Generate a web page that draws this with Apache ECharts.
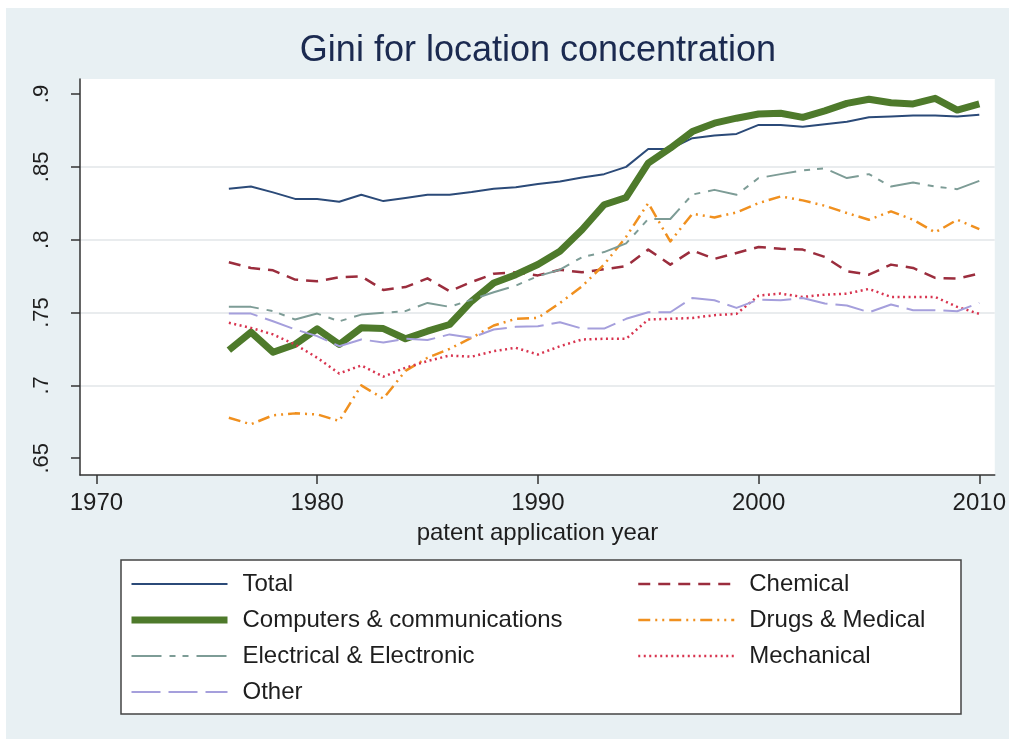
<!DOCTYPE html>
<html>
<head>
<meta charset="utf-8">
<title>Gini for location concentration</title>
<script src="https://cdn.jsdelivr.net/npm/echarts@6/dist/echarts.min.js"></script>
<style>
  html, body { margin: 0; padding: 0; background: #ffffff; }
  #bg { position: absolute; left: 6px; top: 8px; right: 0; bottom: 0; background: #e8f0f3; }
  #chart { position: absolute; left: 0; top: 0; width: 1009px; height: 739px; }
</style>
</head>
<body>
<div id="bg"></div>
<div id="chart"></div>
<script>
// years 1976..2010
var years = [1976,1977,1978,1979,1980,1981,1982,1983,1984,1985,1986,1987,1988,1989,1990,
             1991,1992,1993,1994,1995,1996,1997,1998,1999,2000,2001,2002,2003,2004,2005,
             2006,2007,2008,2009,2010];

var total = [.835,.8365,.8325,.828,.828,.826,.8308,.8265,.8286,.8308,.8308,.8327,.835,.836,.8382,
             .840,.8427,.845,.850,.8623,.8623,.8697,.8715,.8726,.8788,.8788,.8776,.8792,.881,.884,
             .8845,.8852,.8852,.8845,.8858];
var chemical = [.7845,.7806,.779,.7726,.7715,.7742,.7749,.7655,.7675,.7735,.7646,.771,.7766,.7776,.7755,
                .7794,.7776,.7797,.7818,.7932,.7829,.7927,.7868,.7909,.795,.7938,.7932,.7882,.7783,.776,
                .7829,.7806,.7738,.7733,.7767];
var computers = [.7242,.7365,.7228,.7281,.7388,.7281,.7395,.739,.732,.7372,.7418,.7578,.7703,.776,.783,
                 .792,.8068,.824,.829,.8525,.8628,.8742,.880,.8834,.8863,.8868,.884,.8884,.8936,.8964,
                 .894,.8932,.897,.889,.8932];
var drugs = [.6778,.6733,.6795,.6808,.6801,.6756,.700,.6909,.710,.719,.7251,.7327,.7411,.7457,.7463,
             .7566,.768,.783,.802,.8251,.7988,.8178,.8153,.8187,.8251,.8297,.827,.8233,.8183,.8137,
             .8194,.8137,.805,.8137,.8073];
var electrical = [.7539,.7539,.751,.7452,.7493,.744,.7486,.7498,.751,.7566,.7539,.7589,.7639,.7685,.775,
                  .7794,.788,.7915,.7975,.8142,.8142,.831,.8342,.8308,.8423,.845,.8475,.849,.8423,.845,
                  .8365,.8393,.8365,.8347,.8404];
var mechanical = [.743,.7395,.735,.7281,.719,.7082,.7137,.706,.7121,.7167,.7205,.7197,.7235,.7258,.7212,
                  .7269,.7315,.732,.732,.7452,.7457,.7463,.7482,.7491,.7616,.763,.7607,.7623,.763,.7662,
                  .7607,.7607,.7607,.7539,.7491];
var other = [.7493,.7493,.744,.7384,.7338,.7269,.7315,.7295,.732,.7311,.735,.7327,.7384,.7402,.7406,
             .7434,.739,.739,.7457,.7502,.7502,.760,.7584,.7532,.7589,.7584,.760,.7562,.7548,.7502,
             .7555,.7516,.7516,.7509,.7566];

var xTicks = [1970, 1980, 1990, 2000, 2010];
var yTicks = [0.65, 0.7, 0.75, 0.8, 0.85, 0.9];

var FONT = 'Liberation Sans';

function pairs(vals) {
  return vals.map(function (v, i) { return [years[i], v]; });
}

function line(name, vals, color, width, dash) {
  return {
    name: name,
    type: 'line',
    data: pairs(vals),
    symbol: 'none',
    lineStyle: { color: color, width: width, type: dash || 'solid', cap: 'butt', join: 'round' },
    itemStyle: { color: color },
    emphasis: { disabled: true }
  };
}

var chart = echarts.init(document.getElementById('chart'));

var legendText = { fontFamily: FONT, fontSize: 24, color: '#1e1e1e', lineHeight: 26, padding: [0, 0, 0, 10] };

function legendCol(left, names) {
  return {
    orient: 'vertical', left: left, top: 571, padding: 0,
    itemWidth: 96, itemHeight: 14, itemGap: 10,
    textStyle: legendText,
    itemStyle: { opacity: 0 },
    lineStyle: { width: 'inherit' },
    data: names
  };
}

chart.setOption({
  animation: false,
  title: {
    text: 'Gini for location concentration',
    left: 538,
    top: 33,
    padding: 0,
    textAlign: 'center',
    textStyle: { fontFamily: FONT, fontSize: 36, fontWeight: 'normal', color: '#1b2a50' }
  },
  grid: {
    left: 80, right: 10, top: 79, bottom: 264,
    show: true, backgroundColor: '#ffffff', borderWidth: 0
  },
  xAxis: {
    type: 'value',
    min: 1969.256,
    max: 2010.70,
    name: 'patent application year',
    nameLocation: 'middle',
    nameGap: 46,
    nameTextStyle: { fontFamily: FONT, fontSize: 24, color: '#1e1e1e' },
    axisLine: { show: true, lineStyle: { color: '#333333', width: 1.5 } },
    axisTick: { show: true, length: 9, customValues: xTicks, lineStyle: { color: '#333333', width: 1.5 } },
    axisLabel: {
      customValues: xTicks, margin: 16,
      fontFamily: FONT, fontSize: 24, color: '#1e1e1e',
      formatter: function (v) { return String(v); }
    },
    splitLine: { show: false }
  },
  yAxis: {
    type: 'value',
    min: 0.6385,
    max: 0.9103,
    axisLine: { show: true, lineStyle: { color: '#333333', width: 1.5 } },
    axisTick: { show: true, length: 9, customValues: yTicks, lineStyle: { color: '#333333', width: 1.5 } },
    axisLabel: {
      customValues: yTicks, margin: 27, rotate: 90,
      fontFamily: FONT, fontSize: 22, color: '#1e1e1e',
      formatter: function (v) { return v.toFixed(2).replace(/0$/, '').replace(/^0/, ''); }
    },
    splitLine: { show: true, showMinLine: false, showMaxLine: false, lineStyle: { color: '#e9ecee', width: 2 } }
  },
  legend: [
    legendCol(128, ['Total', 'Computers & communications', 'Electrical & Electronic', 'Other']),
    legendCol(637, ['Chemical', 'Drugs & Medical', 'Mechanical'])
  ],
  graphic: [{
    type: 'rect', z: -1, silent: true,
    shape: { x: 121, y: 560, width: 840, height: 154 },
    style: { fill: '#ffffff', stroke: '#444444', lineWidth: 1.5 }
  }],
  series: [
    line('Total', total, '#2b4a78', 2),
    line('Chemical', chemical, '#9b2d3d', 2.5, [12, 8]),
    line('Computers & communications', computers, '#4e7a2b', 7),
    line('Drugs & Medical', drugs, '#f0901f', 2.5, [12, 5, 2, 5, 2, 5]),
    line('Electrical & Electronic', electrical, '#7d9c96', 2, [30, 8, 6, 7, 6, 8]),
    line('Mechanical', mechanical, '#d8344f', 2.5, [2, 3.5]),
    line('Other', other, '#a59fdc', 2, [29, 8])
  ]
});
</script>
</body>
</html>
